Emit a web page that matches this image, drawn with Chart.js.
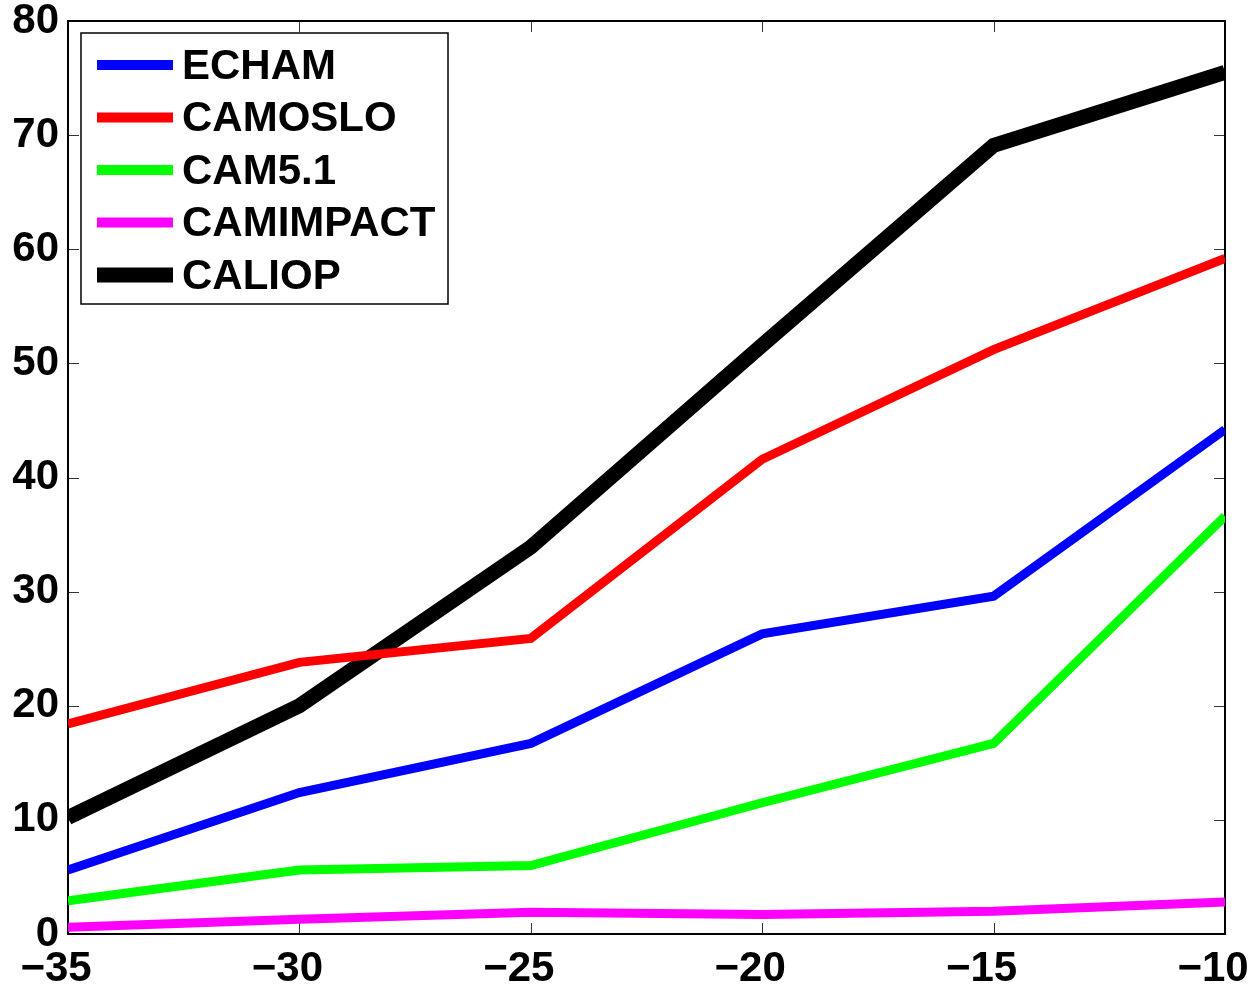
<!DOCTYPE html>
<html lang="en">
<head>
    <meta charset="UTF-8">
    <title>Model vs CALIOP</title>
    <script src="https://cdn.jsdelivr.net/npm/chart.js@4.4.0/dist/chart.umd.min.js"></script>
    <style>
        html, body { margin: 0; padding: 0; background: #fff; }
        #wrap { width: 1255px; height: 988px; position: relative; }
    </style>
</head>
<body>
    <div id="wrap"><canvas id="chart"></canvas></div>

    <script>
        // Data
        const xValues   = [-35, -30, -25, -20, -15, -10];
        const echam     = [5.6, 12.4, 16.7, 26.3, 29.6, 44.2];
        const camoslo   = [18.4, 23.8, 25.9, 41.6, 51.2, 59.2];
        const cam51     = [2.9, 5.6, 6.0, 11.5, 16.7, 36.6];
        const camimpact = [0.6, 1.3, 1.9, 1.7, 2.0, 2.8];
        const caliop    = [10.2, 20.0, 33.9, 51.6, 69.1, 75.5];

        const seriesNames = ['ECHAM', 'CAMOSLO', 'CAM5.1', 'CAMIMPACT', 'CALIOP'];
        const seriesData  = [echam, camoslo, cam51, camimpact, caliop];
        const colors      = ['#0000ff', '#ff0000', '#00ff00', '#ff00ff', '#000000'];
        const widths      = [9, 9, 9, 9, 15];

        const xTicks = [-35, -30, -25, -20, -15, -10];
        const yTicks = [0, 10, 20, 30, 40, 50, 60, 70, 80];

        const tickFont = { family: "'Liberation Sans', Arial, Helvetica, sans-serif", size: 42, weight: 'bold' };
        const legendFont = "bold 42px 'Liberation Sans', Arial, Helvetica, sans-serif";

        const datasets = seriesNames.map((name, i) => ({
            label: name,
            data: xValues.map((x, j) => ({ x: x, y: seriesData[i][j] })),
            borderColor: colors[i],
            backgroundColor: colors[i],
            borderWidth: widths[i],
            pointRadius: 0,
            tension: 0,
            fill: false
        }));

        // frame with inward ticks on all four sides
        const framePlugin = {
            id: 'frame',
            beforeDatasetsDraw(chart) {
                const { ctx, chartArea: a, scales } = chart;
                ctx.save();
                ctx.strokeStyle = '#333';
                ctx.lineWidth = 1;
                const len = 11;
                xTicks.forEach(v => {
                    const px = Math.round(scales.x.getPixelForValue(v)) + 0.5;
                    ctx.beginPath();
                    ctx.moveTo(px, a.bottom); ctx.lineTo(px, a.bottom - len);
                    ctx.moveTo(px, a.top); ctx.lineTo(px, a.top + len);
                    ctx.stroke();
                });
                yTicks.forEach(v => {
                    const py = Math.round(scales.y.getPixelForValue(v)) + 0.5;
                    ctx.beginPath();
                    ctx.moveTo(a.left, py); ctx.lineTo(a.left + len, py);
                    ctx.moveTo(a.right, py); ctx.lineTo(a.right - len, py);
                    ctx.stroke();
                });
                ctx.strokeStyle = '#000';
                ctx.lineWidth = 2;
                ctx.strokeRect(a.left, a.top, a.right - a.left, a.bottom - a.top);
                ctx.restore();
            }
        };

        // legend box drawn inside the plot, top-left
        const boxLegend = {
            id: 'boxLegend',
            afterDatasetsDraw(chart) {
                const { ctx } = chart;
                const bx = 81, by = 33, bw = 367, bh = 271;
                ctx.save();
                ctx.fillStyle = '#fff';
                ctx.fillRect(bx, by, bw, bh);
                ctx.strokeStyle = '#000';
                ctx.lineWidth = 1.5;
                ctx.strokeRect(bx, by, bw, bh);
                ctx.font = legendFont;
                ctx.textBaseline = 'middle';
                ctx.textAlign = 'left';
                seriesNames.forEach((name, i) => {
                    const y = by + 32 + i * 52.5;
                    ctx.strokeStyle = colors[i];
                    ctx.lineWidth = i === 4 ? 15 : 10;
                    ctx.beginPath();
                    ctx.moveTo(97, y); ctx.lineTo(173, y);
                    ctx.stroke();
                    ctx.fillStyle = '#000';
                    ctx.fillText(name, 182, y + 2);
                });
                ctx.restore();
            }
        };

        const ctx = document.getElementById('chart').getContext('2d');
        new Chart(ctx, {
            type: 'line',
            data: { datasets: datasets },
            plugins: [framePlugin, boxLegend],
            options: {
                responsive: true,
                maintainAspectRatio: false,
                animation: false,
                layout: { padding: { top: 21, right: 30, left: 0, bottom: 0 } },
                plugins: {
                    legend: { display: false },
                    tooltip: { enabled: false }
                },
                scales: {
                    x: {
                        type: 'linear',
                        min: -35, max: -10,
                        afterBuildTicks: s => { s.ticks = xTicks.map(v => ({ value: v })); },
                        afterFit: s => { s.height = 54; s.paddingLeft = 0; s.paddingRight = 0; },
                        grid: { display: false, drawTicks: false },
                        border: { display: false },
                        ticks: {
                            font: tickFont,
                            color: '#000',
                            padding: 10,
                            labelOffset: -12,
                            maxRotation: 0,
                            callback: v => (v < 0 ? '\u2212' + Math.abs(v) : String(v))
                        }
                    },
                    y: {
                        min: 0, max: 80,
                        afterBuildTicks: s => { s.ticks = yTicks.map(v => ({ value: v })); },
                        afterFit: s => { s.width = 68; s.paddingTop = 0; s.paddingBottom = 0; },
                        grid: { display: false, drawTicks: false },
                        border: { display: false },
                        ticks: {
                            font: tickFont,
                            color: '#000',
                            padding: 9
                        }
                    }
                }
            }
        });
    </script>
</body>
</html>
